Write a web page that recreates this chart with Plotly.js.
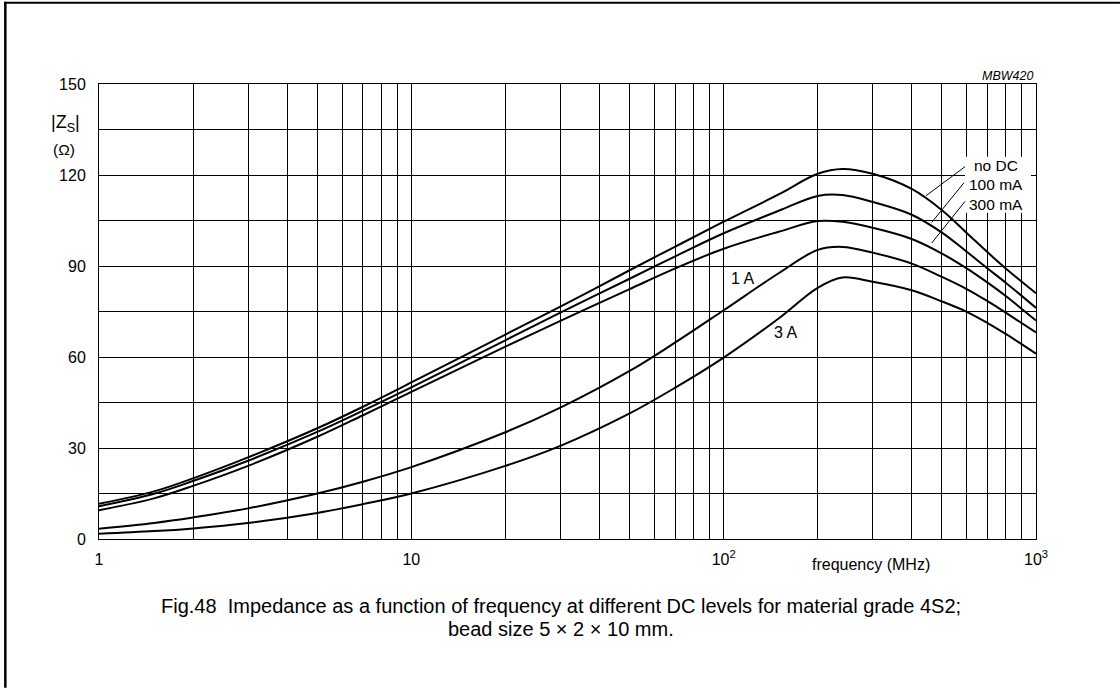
<!DOCTYPE html>
<html>
<head>
<meta charset="utf-8">
<script src="https://cdn.plot.ly/plotly-3.0.1.min.js"></script>
<style>
html,body{margin:0;padding:0;background:#fff;}
#chart{width:1120px;height:688px;}
</style>
</head>
<body>
<div id="chart"></div>
<script>
// frequency in MHz
const freq = [1, 1.5, 2, 3, 5, 7, 10, 20, 30, 50, 70, 100, 150, 200, 240, 300, 400, 500, 600, 700, 800, 1000];
const noDC   = [11.6, 15.7, 20.0, 26.9, 36.5, 43.6, 51.6, 67.4, 76.6, 88.6, 96.4, 104.6, 113.6, 120.4, 122.0, 120.4, 115.4, 108.4, 100.9, 94.5, 89.2, 81.0];
const mA100  = [10.8, 14.9, 19.1, 25.8, 35.3, 42.3, 50.0, 65.5, 74.6, 85.8, 93.2, 100.8, 108.2, 113.1, 113.4, 111.1, 106.9, 101.0, 94.7, 89.2, 84.5, 76.2];
const mA300  = [9.5, 13.4, 17.5, 24.1, 33.7, 40.8, 48.5, 63.4, 71.9, 82.4, 89.2, 95.7, 101.3, 104.8, 104.6, 102.6, 98.9, 94.1, 89.2, 84.5, 80.1, 72.0];
const A1     = [3.4, 5.3, 7.1, 10.1, 15.0, 18.9, 23.7, 35.2, 43.3, 55.4, 64.8, 75.4, 87.6, 95.3, 96.3, 94.4, 90.8, 86.4, 82.4, 78.4, 74.6, 68.1];
const A3     = [1.7, 2.6, 3.5, 5.3, 8.6, 11.5, 15.0, 24.1, 30.7, 41.4, 49.9, 59.8, 72.7, 82.8, 86.2, 84.8, 82.0, 78.3, 74.9, 71.2, 67.6, 61.1];

const seriesNames = ['no DC', '100 mA', '300 mA', '1 A', '3 A'];
const seriesData = [noDC, mA100, mA300, A1, A3];

const xGrid = [1,2,3,4,5,6,7,8,9,10,20,30,40,50,60,70,80,90,100,200,300,400,500,600,700,800,900,1000];
const xLabels = {1:'1', 10:'10', 100:'10<sup>2</sup>', 1000:'10<sup>3</sup>'};
const yGrid = [0,15,30,45,60,75,90,105,120,135,150];
const yLabels = {0:'0',30:'30',60:'60',90:'90',120:'120',150:'150'};

const FONT = 'Liberation Sans, Arial, Helvetica, sans-serif';

const traces = seriesData.map((d, i) => ({
  x: freq, y: d, name: seriesNames[i], type: 'scatter', mode: 'lines',
  line: {color: '#000', width: 2, shape: 'spline', smoothing: 1},
  hoverinfo: 'x+y+name'
}));

// pixel->paper helpers for decorations
const L = 98.7, R = 1036, T = 84.3, B = 539.3;
const px = v => (v - L) / (R - L);
const py = v => (B - v) / (B - T);

const layout = {
  width: 1120, height: 688,
  margin: {l: L, r: 1120 - R, t: T, b: 688 - B, pad: 0},
  paper_bgcolor: '#fff', plot_bgcolor: '#fff',
  showlegend: false,
  font: {family: FONT, size: 16, color: '#000'},
  xaxis: {
    type: 'log', range: [0, 3],
    tickvals: xGrid, ticktext: xGrid.map(v => xLabels[v] || ''),
    tickangle: 0,
    showgrid: true, gridcolor: '#000', gridwidth: 1,
    showline: true, linecolor: '#000', linewidth: 1, mirror: true,
    ticks: 'outside', ticklen: 6, tickcolor: 'rgba(0,0,0,0)',
    tickfont: {family: FONT, size: 16, color: '#000'},
    zeroline: false, fixedrange: true
  },
  yaxis: {
    range: [0, 150],
    tickvals: yGrid, ticktext: yGrid.map(v => yLabels[v] || ''),
    showgrid: true, gridcolor: '#000', gridwidth: 1,
    showline: true, linecolor: '#000', linewidth: 1, mirror: true,
    ticks: 'outside', ticklen: 9, tickcolor: 'rgba(0,0,0,0)',
    tickfont: {family: FONT, size: 16, color: '#000'},
    zeroline: false, fixedrange: true
  },
  shapes: [
    // outer frame (left & top)
    {type: 'line', xref: 'paper', yref: 'paper', x0: px(5), x1: px(5), y0: py(2), y1: py(688), line: {color: '#000', width: 2.5}},
    {type: 'line', xref: 'paper', yref: 'paper', x0: px(4), x1: px(1120), y0: py(3), y1: py(3), line: {color: '#000', width: 2}},
    // white box behind curve labels
    {type: 'rect', xref: 'paper', yref: 'paper', x0: px(965), x1: px(1031), y0: py(213), y1: py(157), fillcolor: '#fff', line: {width: 0}, layer: 'above'},
    // leader lines
    {type: 'line', xref: 'paper', yref: 'paper', x0: px(926), y0: py(196), x1: px(965), y1: py(167), line: {color: '#000', width: 1}},
    {type: 'line', xref: 'paper', yref: 'paper', x0: px(931.7), y0: py(222.7), x1: px(964), y1: py(183), line: {color: '#000', width: 1}},
    {type: 'line', xref: 'paper', yref: 'paper', x0: px(931.7), y0: py(243.3), x1: px(965), y1: py(201.7), line: {color: '#000', width: 1}}
  ],
  annotations: [
    {text: 'MBW420', xref: 'paper', yref: 'paper', x: px(1035), y: py(76), xanchor: 'right', yanchor: 'middle', showarrow: false, font: {family: FONT, size: 12.5, style: 'italic'}},
    {text: '|Z<sub>S</sub>|', xref: 'paper', yref: 'paper', x: px(65), y: py(124), xanchor: 'center', yanchor: 'middle', showarrow: false, font: {family: FONT, size: 18}},
    {text: '(Ω)', xref: 'paper', yref: 'paper', x: px(64), y: py(150), xanchor: 'center', yanchor: 'middle', showarrow: false, font: {family: FONT, size: 15.5}},
    {text: 'frequency (MHz)', xref: 'paper', yref: 'paper', x: px(871), y: py(565), xanchor: 'center', yanchor: 'middle', showarrow: false, font: {family: FONT, size: 16}},
    {text: 'no DC', xref: 'paper', yref: 'paper', x: px(996), y: py(166), xanchor: 'center', yanchor: 'middle', showarrow: false, font: {family: FONT, size: 15.5}},
    {text: '100 mA', xref: 'paper', yref: 'paper', x: px(996), y: py(185), xanchor: 'center', yanchor: 'middle', showarrow: false, font: {family: FONT, size: 15.5}},
    {text: '300 mA', xref: 'paper', yref: 'paper', x: px(996), y: py(205), xanchor: 'center', yanchor: 'middle', showarrow: false, font: {family: FONT, size: 15.5}},
    {text: '1 A', xref: 'paper', yref: 'paper', x: px(742.5), y: py(279), xanchor: 'center', yanchor: 'middle', showarrow: false, font: {family: FONT, size: 16}},
    {text: '3 A', xref: 'paper', yref: 'paper', x: px(785), y: py(333), xanchor: 'center', yanchor: 'middle', showarrow: false, font: {family: FONT, size: 16}},
    {text: 'Fig.48  Impedance as a function of frequency at different DC levels for material grade 4S2;', xref: 'paper', yref: 'paper', x: px(561), y: py(606), xanchor: 'center', yanchor: 'middle', showarrow: false, font: {family: FONT, size: 20}},
    {text: 'bead size 5 × 2 × 10 mm.', xref: 'paper', yref: 'paper', x: px(561), y: py(629), xanchor: 'center', yanchor: 'middle', showarrow: false, font: {family: FONT, size: 20}}
  ]
};

Plotly.newPlot('chart', traces, layout, {displayModeBar: false});
</script>
</body>
</html>
